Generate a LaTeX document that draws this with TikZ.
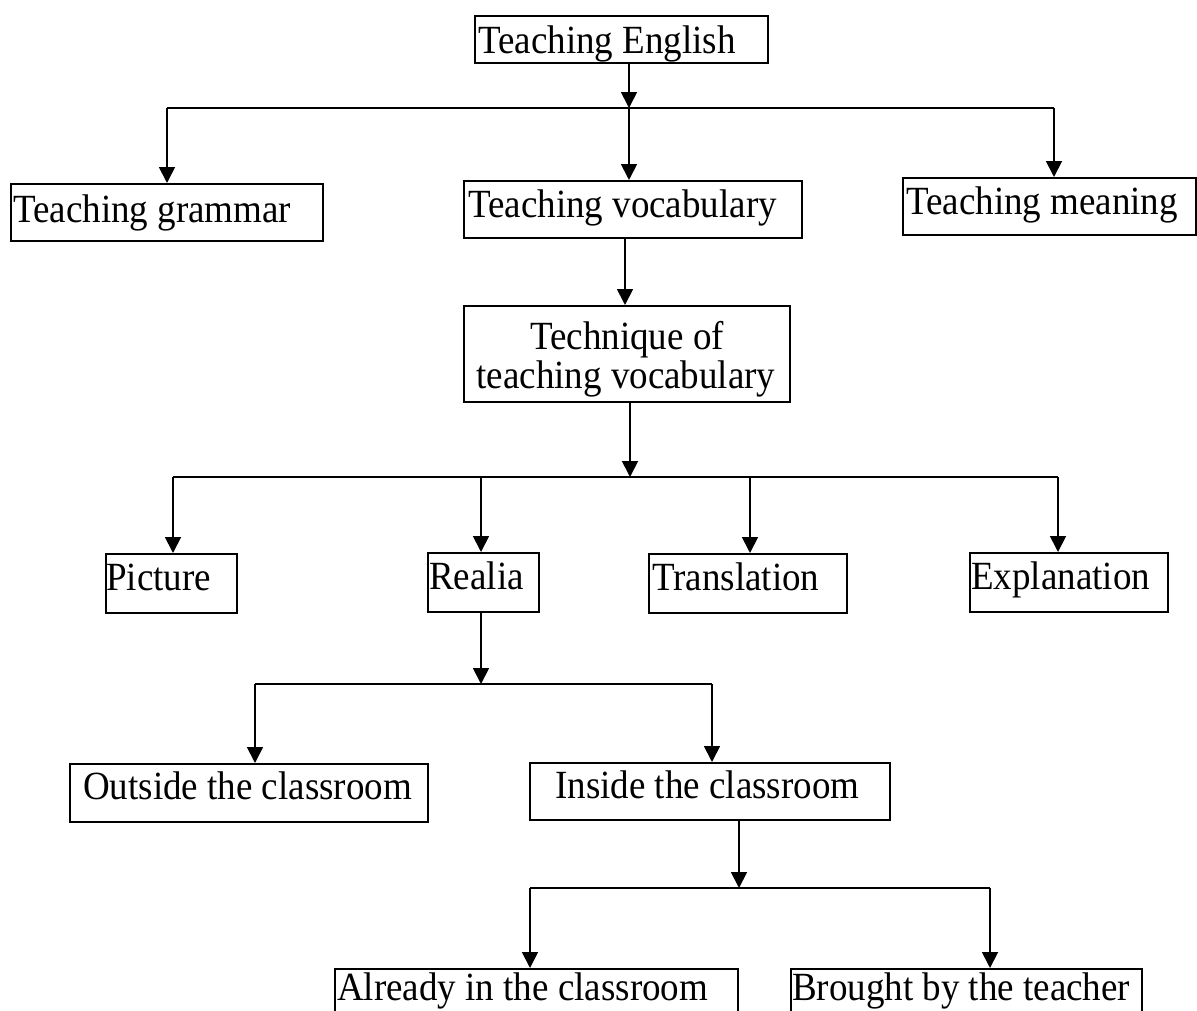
\documentclass[tikz,border=0pt]{standalone}
\usepackage{fontspec}
\setmainfont{Liberation Serif}[FakeStretch=0.925]
\usetikzlibrary{arrows.meta}
\begin{document}
\begin{tikzpicture}[x=1pt,y=-1pt,
  box/.style={draw, line width=1.5pt, rectangle, inner sep=0pt, anchor=north west},
  txt/.style={anchor=base west, inner sep=0pt, font=\fontsize{40}{42}\selectfont},
  arr/.style={line width=1.8pt, -{Triangle[width=16pt,length=16pt]}},
  ln/.style={line width=1.8pt}]
\useasboundingbox (0,0) rectangle (1197,1010);
\clip (0,0) rectangle (1197,1010);
% boxes
\node[box, minimum width=293pt, minimum height=47pt] (te)  at (474,15)  {};
\node[box, minimum width=312pt, minimum height=57pt] (tg)  at (10,183)  {};
\node[box, minimum width=338pt, minimum height=57pt] (tv)  at (463,180) {};
\node[box, minimum width=293pt, minimum height=57pt] (tm)  at (902,177) {};
\node[box, minimum width=326pt, minimum height=96pt] (tq)  at (463,305) {};
\node[box, minimum width=131pt, minimum height=59pt] (pic) at (105,553) {};
\node[box, minimum width=111pt, minimum height=59pt] (rea) at (427,552) {};
\node[box, minimum width=198pt, minimum height=59pt] (tra) at (648,553) {};
\node[box, minimum width=198pt, minimum height=59pt] (exp) at (969,552) {};
\node[box, minimum width=358pt, minimum height=58pt] (out) at (69,763)  {};
\node[box, minimum width=360pt, minimum height=57pt] (ins) at (529,762) {};
\node[box, minimum width=403pt, minimum height=70pt] (alr) at (334,968) {};
\node[box, minimum width=351pt, minimum height=70pt] (bro) at (790,968) {};
% texts
\node[txt] (te-t)  at (478,53)   {Teaching English};
\node[txt] (tg-t)  at (13,222)   {Teaching grammar};
\node[txt] (tv-t)  at (468,217)  {Teaching vocabulary};
\node[txt] (tm-t)  at (906,214)  {Teaching meaning};
\node[txt, anchor=base] (tq-t1) at (627,349) {Technique of};
\node[txt, anchor=base] (tq-t2) at (626,388) {teaching vocabulary};
\node[txt] (pic-t) at (106,590)  {Picture};
\node[txt] (rea-t) at (429,589)  {Realia};
\node[txt] (tra-t) at (652,590)  {Translation};
\node[txt] (exp-t) at (971,589)  {Explanation};
\node[txt] (out-t) at (83,799)   {Outside the classroom};
\node[txt] (ins-t) at (555,798)  {Inside the classroom};
\node[txt] (alr-t) at (337,1000) {Already in the classroom};
\node[txt] (bro-t) at (792,1000) {Brought by the teacher};
% level 1
\coordinate (j1) at (629,108);
\coordinate (k1a) at (167,108);
\coordinate (k1c) at (1054,108);
\draw[arr] (te.south -| j1) -- (j1);
\draw[ln] (k1a) -- (k1c);
\draw[arr] (k1a) -- (k1a |- tg.north);
\draw[arr] (j1) -- (j1 |- tv.north);
\draw[arr] (k1c) -- (k1c |- tm.north);
% level 2
\coordinate (c2) at (625,0);
\draw[arr] (c2 |- tv.south) -- (c2 |- tq.north);
% level 3
\coordinate (j2) at (630,477);
\coordinate (k2a) at (173,477);
\coordinate (k2b) at (481,477);
\coordinate (k2c) at (750,477);
\coordinate (k2d) at (1058,477);
\draw[arr] (j2 |- tq.south) -- (j2);
\draw[ln] (k2a) -- (k2d);
\draw[arr] (k2a) -- (k2a |- pic.north);
\draw[arr] (k2b) -- (k2b |- rea.north);
\draw[arr] (k2c) -- (k2c |- tra.north);
\draw[arr] (k2d) -- (k2d |- exp.north);
% level 4
\coordinate (j3) at (481,684);
\coordinate (k3a) at (255,684);
\coordinate (k3b) at (712,684);
\draw[arr] (j3 |- rea.south) -- (j3);
\draw[ln] (k3a) -- (k3b);
\draw[arr] (k3a) -- (k3a |- out.north);
\draw[arr] (k3b) -- (k3b |- ins.north);
% level 5
\coordinate (j4) at (739,888);
\coordinate (k4a) at (530,888);
\coordinate (k4b) at (990,888);
\draw[arr] (j4 |- ins.south) -- (j4);
\draw[ln] (k4a) -- (k4b);
\draw[arr] (k4a) -- (k4a |- alr.north);
\draw[arr] (k4b) -- (k4b |- bro.north);
\end{tikzpicture}
\end{document}
